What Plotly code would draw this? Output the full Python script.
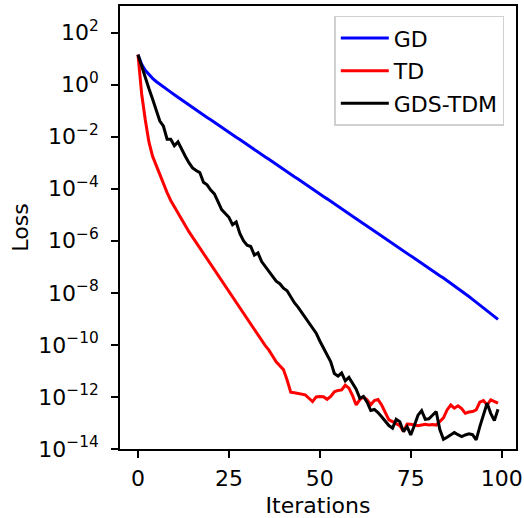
import numpy as np
import plotly.graph_objects as go

# Training loss per iteration, stored as log10(loss)
iterations = list(range(100))

gd_log10 = [
    1.15, 0.78, 0.55, 0.38, 0.24, 0.12, 0.01, -0.09, -0.19, -0.29,
    -0.39, -0.49, -0.59, -0.69, -0.78, -0.88, -0.97, -1.07, -1.16, -1.26,
    -1.35, -1.45, -1.54, -1.64, -1.73, -1.83, -1.92, -2.02, -2.11, -2.21,
    -2.30, -2.40, -2.49, -2.59, -2.68, -2.78, -2.87, -2.97, -3.06, -3.16,
    -3.25, -3.35, -3.44, -3.54, -3.63, -3.73, -3.82, -3.92, -4.01, -4.11,
    -4.20, -4.30, -4.39, -4.49, -4.58, -4.68, -4.77, -4.87, -4.96, -5.06,
    -5.15, -5.25, -5.34, -5.44, -5.53, -5.63, -5.72, -5.82, -5.91, -6.01,
    -6.10, -6.20, -6.29, -6.39, -6.48, -6.58, -6.67, -6.77, -6.86, -6.96,
    -7.05, -7.15, -7.24, -7.34, -7.43, -7.53, -7.62, -7.72, -7.81, -7.92,
    -8.03, -8.14, -8.25, -8.36, -8.47, -8.58, -8.69, -8.80, -8.91, -9.02,
]

td_log10 = [
    1.15, -0.35, -1.35, -2.20, -2.75, -3.10, -3.50, -3.85, -4.15, -4.45,
    -4.70, -4.95, -5.18, -5.42, -5.65, -5.86, -6.07, -6.28, -6.49, -6.70,
    -6.91, -7.12, -7.33, -7.54, -7.75, -7.96, -8.17, -8.38, -8.59, -8.80,
    -9.01, -9.22, -9.43, -9.64, -9.85, -10.03, -10.20, -10.45, -10.65, -10.80,
    -10.95, -11.35, -11.82, -11.84, -11.86, -11.90, -11.92, -12.05, -12.18, -12.00,
    -11.98, -11.99, -12.09, -11.98, -11.80, -11.75, -11.73, -11.55, -11.66, -11.95,
    -12.31, -12.10, -12.00, -12.11, -12.30, -12.14, -12.10, -12.31, -12.63, -12.88,
    -12.95, -13.01, -13.10, -13.33, -13.04, -13.05, -13.08, -13.11, -13.08, -13.05,
    -13.08, -13.06, -13.08, -12.95, -12.80, -12.50, -12.31, -12.43, -12.34, -12.45,
    -12.63, -12.58, -12.56, -12.50, -12.20, -12.14, -12.31, -12.11, -12.18, -12.24,
]

gds_tdm_log10 = [
    1.15, 0.70, 0.25, -0.15, -0.55, -0.95, -1.40, -1.60, -2.10, -2.10,
    -2.35, -2.20, -2.50, -2.75, -3.00, -3.20, -3.30, -3.38, -3.75, -3.85,
    -4.05, -4.20, -4.50, -4.80, -4.95, -5.10, -5.38, -5.28, -5.72, -6.00,
    -6.17, -6.22, -6.55, -6.47, -6.80, -6.98, -7.20, -7.38, -7.55, -7.65,
    -7.82, -7.92, -8.15, -8.38, -8.55, -8.75, -8.95, -9.15, -9.38, -9.55,
    -9.85, -10.10, -10.38, -10.65, -11.10, -11.20, -11.08, -11.38, -11.25, -11.50,
    -11.70, -12.05, -11.98, -12.20, -12.52, -12.48, -12.60, -12.76, -12.95, -13.10,
    -13.20, -12.86, -12.95, -13.33, -13.14, -13.46, -13.10, -12.70, -12.53, -12.86,
    -12.84, -12.70, -12.56, -13.25, -13.63, -13.55, -13.45, -13.37, -13.45, -13.52,
    -13.46, -13.42, -13.45, -13.65, -13.14, -12.70, -12.24, -12.63, -12.91, -12.47,
]

series = [
    ("GD", gd_log10, "#0000ff"),
    ("TD", td_log10, "#ff0000"),
    ("GDS-TDM", gds_tdm_log10, "#000000"),
]

y_exponents = [-14, -12, -10, -8, -6, -4, -2, 0, 2]
x_ticks = [0, 25, 50, 75, 100]

FONT = "DejaVu Sans"
FS = 22
fig = go.Figure()
for name, logs, color in series:
    fig.add_trace(go.Scatter(
        x=iterations,
        y=np.power(10.0, logs),
        mode="lines",
        name=name,
        legendgroup=name,
        line=dict(color=color, width=3),
    ))

y_tickvals = [10.0 ** e for e in y_exponents]
y_ticktext = [
    "10<sup>" + (str(e) if e >= 0 else "\u2212" + str(-e)) + "</sup>"
    for e in y_exponents
]

fig.update_layout(
    width=524,
    height=518,
    margin=dict(l=120, r=8, t=6, b=69, autoexpand=False),
    paper_bgcolor="white",
    plot_bgcolor="white",
    font=dict(family=FONT, size=FS, color="black"),
    showlegend=True,
    legend=dict(
        x=0.9705, y=0.978, xanchor="right", yanchor="top",
        bgcolor="rgba(255,255,255,0.8)",
        bordercolor="#d0d0d0", borderwidth=1.5,
        font=dict(family=FONT, size=FS, color="black"),
        traceorder="grouped", tracegroupgap=1,
        itemwidth=48,
    ),
    xaxis=dict(
        range=[-4.95, 103.95],
        tickvals=x_ticks,
        ticks="outside", ticklen=7, tickwidth=1.6, tickcolor="black",
        ticklabelstandoff=2,
        showline=True, linecolor="black", linewidth=1.6, mirror=True,
        showgrid=False, zeroline=False, automargin=False,
        tickfont=dict(family=FONT, size=FS),
        title=dict(text="Iterations", font=dict(family=FONT, size=FS), standoff=8),
    ),
    yaxis=dict(
        type="log",
        range=[-14, 3.02],
        tickvals=y_tickvals,
        ticktext=y_ticktext,
        ticks="outside", ticklen=7, tickwidth=1.6, tickcolor="black",
        ticklabelstandoff=8,
        showline=True, linecolor="black", linewidth=1.6, mirror=True,
        showgrid=False, zeroline=False, automargin=False,
        tickfont=dict(family=FONT, size=FS),
        title=dict(text="Loss", font=dict(family=FONT, size=FS), standoff=4),
    ),
)

fig.write_html("out.html")
